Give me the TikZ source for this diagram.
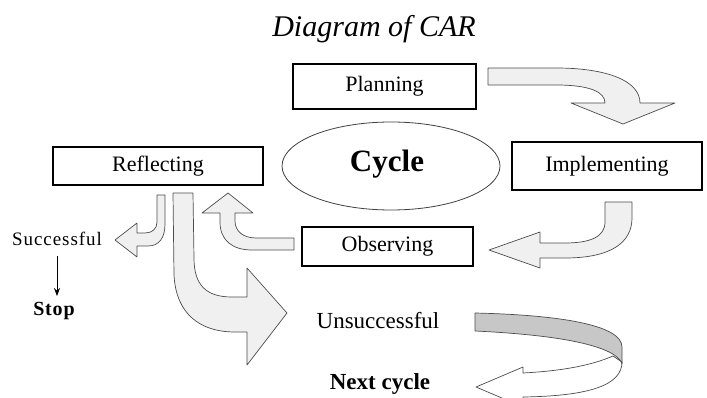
\documentclass[tikz,border=0pt]{standalone}
\usepackage{fontspec}
\setmainfont{Liberation Serif}
\usetikzlibrary{arrows.meta,shapes.geometric}
\begin{document}
\begin{tikzpicture}[x=1pt,y=-1pt,
  boxnode/.style={draw=black,line width=2.8pt,inner sep=0pt,font=\fontsize{22}{26}\selectfont},
  blockarrow/.style={draw=black!70,fill=black!6,line width=0.7pt,line join=round},
  plaintext/.style={inner sep=3pt}]
\useasboundingbox (0,0) rectangle (707,398);
\clip (0,0) rectangle (707,398);

% title
\node[plaintext,font=\fontsize{30}{36}\selectfont\itshape] (title) at (374,29) {Diagram of CAR};

% boxes
\node[boxnode,minimum width=183pt,minimum height=45pt] (plan) at (384.5,86.5) {Planning};
\node[boxnode,minimum width=190pt,minimum height=48pt] (impl) at (607,166) {Implementing};
\node[boxnode,minimum width=210pt,minimum height=38pt] (refl) at (158,166) {Reflecting};
\node[boxnode,minimum width=171pt,minimum height=39pt] (obs) at (387.5,246.5) {Observing};

% cycle ellipse
\node[draw=black!75,line width=0.8pt,ellipse,minimum width=218pt,minimum height=88pt,inner sep=0pt] (cyc) at (391,166) {};
\node[plaintext,font=\fontsize{31}{36}\selectfont\bfseries] (cyctext) at (387,164) {Cycle};

% Planning -> Implementing
\draw[blockarrow] (488,68) -- (556,68) .. controls (605,68) and (640,80) .. (640,103)
  -- (675,103) -- (623,124) -- (571,103) -- (605,103)
  .. controls (605,92) and (590,85) .. (556,85) -- (488,85) -- cycle;

% Implementing -> Observing
\draw[blockarrow] (605,202) -- (605,222) .. controls (605,237) and (590,243) .. (565,243)
  -- (540,243) -- (540,232) -- (489,250) -- (540,268) -- (540,258) -- (565,258)
  .. controls (612,258) and (632,242) .. (632,218) -- (632,202) -- cycle;

% Observing -> Reflecting
\draw[blockarrow] (294,238) -- (256,238) .. controls (243,238) and (235,231) .. (235,221)
  -- (235,213) -- (253,213) -- (228,193) -- (202,213) -- (220,213) -- (220,222)
  .. controls (220,240) and (232,250) .. (252,250) -- (294,250) -- cycle;

% Reflecting -> Successful
\draw[blockarrow] (157,195) -- (157,222) .. controls (157,229) and (152,233) .. (145,233)
  -- (137,233) -- (137,223) -- (115,240) -- (137,257) -- (137,246) -- (148,246)
  .. controls (159,246) and (165,238) .. (165,224) -- (165,195) -- cycle;

% Reflecting -> Unsuccessful
\draw[blockarrow] (173,193) -- (174,275) .. controls (176,314) and (200,332) .. (235,332)
  -- (247,332) -- (247,365) -- (287,313) -- (247,268) -- (247,297) -- (232,297)
  .. controls (206,297) and (194,285) .. (194,258) -- (193,193) -- cycle;

% ribbon to next cycle
\draw[blockarrow,fill=white] (613,356) .. controls (590,366) and (560,371) .. (523,373)
  -- (523,367) -- (476,387) -- (523,407) -- (523,397)
  .. controls (590,396) and (622,385) .. (622,362) -- cycle;
\draw[blockarrow,fill=black!22] (475,313) .. controls (560,315) and (622,325) .. (622,347)
  -- (622,364) .. controls (618,350) and (580,336) .. (475,331) -- cycle;

% side texts
\node[plaintext,font=\fontsize{19}{22}\selectfont\addfontfeature{LetterSpace=5}] (succ) at (57,239) {Successful};
\node[plaintext,font=\fontsize{20}{24}\selectfont\bfseries\addfontfeature{LetterSpace=4}] (stop) at (54,311) {Stop};
\draw[-{Stealth[length=8pt,width=6pt]},line width=0.8pt,shorten <=7pt,shorten >=3pt]
  (succ.south) -- (succ.south |- stop.north);
\node[plaintext,font=\fontsize{23}{27}\selectfont] (unsucc) at (378,321) {Unsuccessful};
\node[plaintext,font=\fontsize{23}{27}\selectfont\bfseries] (next) at (380,384) {Next cycle};
\end{tikzpicture}
\end{document}
